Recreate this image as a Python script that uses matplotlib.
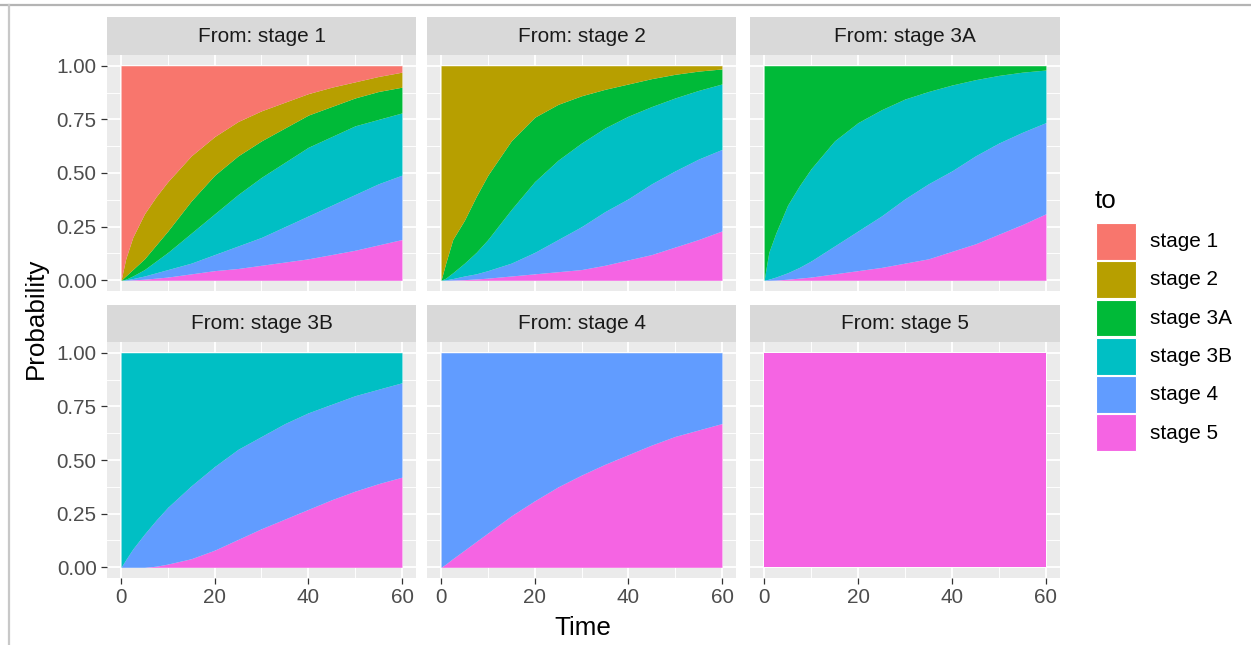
import matplotlib.pyplot as plt
from matplotlib.patches import Rectangle
from matplotlib.lines import Line2D

plt.rcParams['font.family'] = ['Liberation Sans', 'DejaVu Sans']

W, H = 1251, 645
DPI = 100

# ---------------------------------------------------------------
# Data: time grid and stacked probabilities
# ---------------------------------------------------------------
time = [0, 1, 2.5, 5, 7.5, 10, 15, 20, 25, 30, 35, 40, 45, 50, 55, 60]
stages = ['stage 1', 'stage 2', 'stage 3A', 'stage 3B', 'stage 4', 'stage 5']
colors = ['#F8766D', '#B79F00', '#00BA38', '#00BFC4', '#619CFF', '#F564E3']
facets = ['From: stage 1', 'From: stage 2', 'From: stage 3A',
          'From: stage 3B', 'From: stage 4', 'From: stage 5']

# cumulative upper edge of each state, counted from the bottom (stage 5 first)
# from stage 1
s1_cum5 = [0, 0, 0.002, 0.005, 0.01, 0.015, 0.03, 0.045, 0.055, 0.07, 0.085, 0.10, 0.12, 0.14, 0.165, 0.19]
s1_cum4 = [0, 0.002, 0.008, 0.02, 0.035, 0.05, 0.08, 0.12, 0.16, 0.20, 0.25, 0.30, 0.35, 0.40, 0.45, 0.49]
s1_cum3b = [0, 0.005, 0.02, 0.05, 0.09, 0.13, 0.22, 0.31, 0.40, 0.48, 0.55, 0.62, 0.67, 0.72, 0.75, 0.78]
s1_cum3a = [0, 0.02, 0.05, 0.10, 0.165, 0.23, 0.37, 0.49, 0.58, 0.65, 0.71, 0.77, 0.81, 0.85, 0.88, 0.90]
s1_cum2 = [0, 0.10, 0.20, 0.31, 0.39, 0.46, 0.58, 0.67, 0.74, 0.79, 0.83, 0.87, 0.90, 0.925, 0.95, 0.97]
# from stage 2
s2_cum5 = [0, 0, 0.001, 0.003, 0.006, 0.01, 0.02, 0.03, 0.04, 0.05, 0.07, 0.095, 0.12, 0.155, 0.19, 0.23]
s2_cum4 = [0, 0.002, 0.008, 0.02, 0.03, 0.045, 0.08, 0.13, 0.19, 0.25, 0.32, 0.38, 0.45, 0.51, 0.565, 0.61]
s2_cum3b = [0, 0.01, 0.035, 0.08, 0.13, 0.19, 0.33, 0.46, 0.56, 0.64, 0.71, 0.765, 0.81, 0.85, 0.885, 0.915]
s2_cum3a = [0, 0.08, 0.19, 0.28, 0.39, 0.49, 0.65, 0.76, 0.82, 0.86, 0.89, 0.915, 0.94, 0.96, 0.975, 0.985]
# from stage 3A
s3a_cum5 = [0, 0, 0.001, 0.005, 0.01, 0.015, 0.03, 0.045, 0.06, 0.08, 0.10, 0.135, 0.17, 0.215, 0.26, 0.31]
s3a_cum4 = [0, 0.005, 0.015, 0.035, 0.06, 0.09, 0.16, 0.23, 0.30, 0.38, 0.45, 0.51, 0.58, 0.64, 0.69, 0.735]
s3a_cum3b = [0, 0.13, 0.22, 0.35, 0.44, 0.52, 0.65, 0.735, 0.795, 0.845, 0.88, 0.91, 0.935, 0.955, 0.97, 0.98]
# from stage 3B
s3b_cum5 = [0, 0, 0, 0, 0.005, 0.015, 0.04, 0.08, 0.13, 0.18, 0.225, 0.27, 0.315, 0.355, 0.39, 0.42]
s3b_cum4 = [0, 0.035, 0.085, 0.155, 0.22, 0.28, 0.38, 0.47, 0.55, 0.61, 0.67, 0.72, 0.76, 0.80, 0.83, 0.86]
# from stage 4
s4_cum5 = [0, 0.015, 0.04, 0.08, 0.12, 0.16, 0.24, 0.31, 0.375, 0.43, 0.48, 0.525, 0.57, 0.61, 0.64, 0.67]

ones = [1.0] * len(time)
zeros = [0.0] * len(time)

# per facet: cumulative edges, bottom (stage 5) to top (stage 1)
facet_edges = [
    [s1_cum5, s1_cum4, s1_cum3b, s1_cum3a, s1_cum2, ones],
    [s2_cum5, s2_cum4, s2_cum3b, s2_cum3a, ones, ones],
    [s3a_cum5, s3a_cum4, s3a_cum3b, ones, ones, ones],
    [s3b_cum5, s3b_cum4, ones, ones, ones, ones],
    [s4_cum5, ones, ones, ones, ones, ones],
    [ones, ones, ones, ones, ones, ones],
]

fig = plt.figure(figsize=(W / DPI, H / DPI), dpi=DPI)
fig.patch.set_facecolor('white')

# thin grey frame seen at top and left of the screenshot
fig.add_artist(Line2D([0, 1], [1 - 5 / H, 1 - 5 / H], color='#B4B4B4', lw=1.6))
fig.add_artist(Line2D([8.5 / W, 8.5 / W], [0, 1 - 5 / H], color='#C8C8C8', lw=1.6))

col_x = [(107, 416), (427, 736), (750, 1060)]
row_y = [(17, 55, 291), (305, 342, 578)]  # strip top, panel top, panel bottom

S = 1.7  # ggplot size scale seen in the screenshot
txt_small = 8.8 * S
txt_big = 11 * S

def fx(px):
    return px / W

def fy(py):
    return 1 - py / H

for i, (title, edges) in enumerate(zip(facets, facet_edges)):
    r, c = divmod(i, 3)
    x0, x1 = col_x[c]
    st, pt, pb = row_y[r]
    ax = fig.add_axes([fx(x0), fy(pb), fx(x1 - x0), (pb - pt) / H])
    ax.set_facecolor('#EBEBEB')
    ax.set_xlim(-3, 63)
    ax.set_ylim(-0.05, 1.05)
    for sp in ax.spines.values():
        sp.set_visible(False)
    ax.set_xticks([0, 20, 40, 60])
    ax.set_xticks([10, 30, 50], minor=True)
    ax.set_yticks([0, 0.25, 0.5, 0.75, 1.0])
    ax.set_yticks([0.125, 0.375, 0.625, 0.875], minor=True)
    ax.grid(which='major', color='white', lw=1.07 * S * 0.75)
    ax.grid(which='minor', color='white', lw=0.53 * S * 0.75)
    ax.set_axisbelow(True)
    ax.tick_params(which='minor', length=0)
    ax.tick_params(which='major', length=4.5, width=0.9, color='#333333',
                   labelsize=txt_small, labelcolor='#4D4D4D', pad=3)
    if c == 0:
        ax.set_yticklabels(['0.00', '0.25', '0.50', '0.75', '1.00'])
    else:
        ax.tick_params(axis='y', left=False, labelleft=False)
    if r == 0:
        ax.tick_params(axis='x', bottom=False, labelbottom=False)

    lower = zeros
    for k in range(6):
        upper = edges[k]
        ax.fill_between(time, lower, upper, color=colors[5 - k], lw=0)
        lower = upper

    # facet strip
    sax = fig.add_axes([fx(x0), fy(pt), fx(x1 - x0), (pt - st) / H])
    sax.set_facecolor('#D9D9D9')
    sax.set_xticks([])
    sax.set_yticks([])
    for sp in sax.spines.values():
        sp.set_visible(False)
    sax.text(0.5, 0.5, title, ha='center', va='center', fontsize=txt_small,
             color='#1A1A1A', transform=sax.transAxes)

# axis titles
fig.text(fx(583), fy(628), 'Time', ha='center', va='center', fontsize=txt_big, color='black')
fig.text(fx(36), fy(318), 'Probability', ha='center', va='center', rotation=90,
         fontsize=txt_big, color='black')

# legend
fig.text(fx(1095), fy(201), 'to', ha='left', va='center', fontsize=txt_big, color='black')
key_h = 38.3
for j, (lab, col) in enumerate(zip(stages, colors)):
    ytop = 222.5 + j * key_h
    fig.add_artist(Rectangle((fx(1096), fy(ytop + key_h - 1)), fx(40), (key_h - 1.5) / H,
                             facecolor=col, edgecolor='white', lw=0.8,
                             transform=fig.transFigure))
    fig.text(fx(1150), fy(ytop + key_h / 2), lab, ha='left', va='center',
             fontsize=txt_small, color='black')

fig.savefig('out.png', dpi=DPI)
